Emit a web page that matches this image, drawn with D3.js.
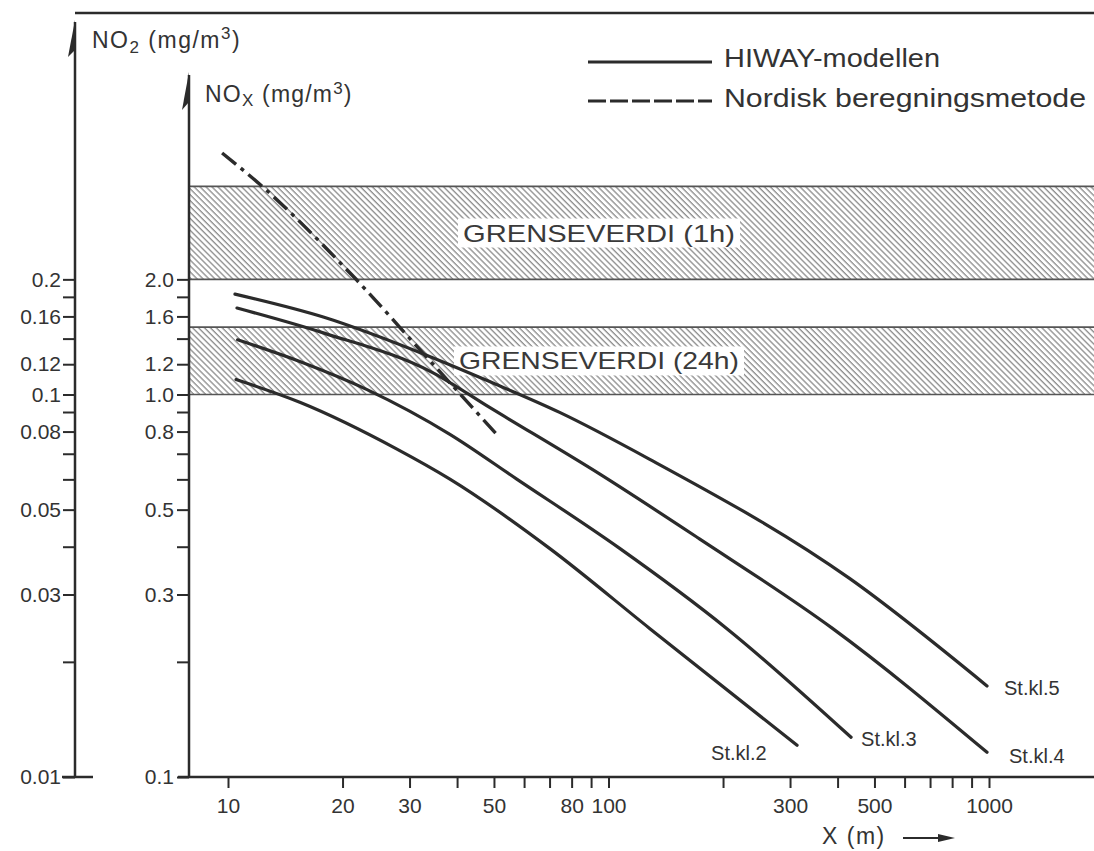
<!DOCTYPE html>
<html>
<head>
<meta charset="utf-8">
<script src="https://cdn.jsdelivr.net/npm/d3@7"></script>
<style>
  body { margin: 0; background: #fff; }
  svg { font-family: "Liberation Sans", Arial, sans-serif; }
</style>
</head>
<body>
<div id="chart"></div>
<script>
// tick values / labels
const noxTicks = [2.0, 1.8, 1.6, 1.4, 1.2, 1.0, 0.9, 0.8, 0.7, 0.6, 0.5, 0.4, 0.3, 0.2, 0.1];
const noxLabels = {2.0: "2.0", 1.6: "1.6", 1.2: "1.2", 1.0: "1.0", 0.8: "0.8", 0.5: "0.5", 0.3: "0.3", 0.1: "0.1"};
const no2Ticks = [0.2, 0.18, 0.16, 0.14, 0.12, 0.1, 0.09, 0.08, 0.07, 0.06, 0.05, 0.04, 0.03, 0.02, 0.01];
const no2Labels = {0.2: "0.2", 0.16: "0.16", 0.12: "0.12", 0.1: "0.1", 0.08: "0.08", 0.05: "0.05", 0.03: "0.03", 0.01: "0.01"};
const xTicks = [10, 20, 30, 40, 50, 60, 70, 80, 90, 100, 200, 300, 400, 500, 600, 700, 800, 900, 1000];
const xLabels = [10, 20, 30, 50, 80, 100, 300, 500, 1000];

// limit bands (NOx mg/m3)
const bandNames = ["GRENSEVERDI (1h)", "GRENSEVERDI (24h)"];
const bandLow = [2.0, 1.0];
const bandHigh = [3.5, 1.5];

// HIWAY curves, NOx vs distance
const curveNames = ["St.kl.2", "St.kl.3", "St.kl.4", "St.kl.5"];
const st2X = [10.5, 15.5, 27.8, 38.3, 70, 128, 313];
const st2Y = [1.094, 0.953, 0.72, 0.601, 0.396, 0.245, 0.121];
const st3X = [10.6, 15.5, 23.2, 38.3, 57.4, 107, 204, 434];
const st3Y = [1.39, 1.218, 1.03, 0.787, 0.601, 0.396, 0.245, 0.127];
const st4X = [10.56, 17.8, 34.5, 48.7, 94.7, 173, 387, 988];
const st4Y = [1.683, 1.449, 1.141, 0.925, 0.620, 0.420, 0.245, 0.116];
const st5X = [10.43, 17.8, 34.5, 48.7, 74.4, 128, 429, 988];
const st5Y = [1.83, 1.594, 1.248, 1.081, 0.898, 0.678, 0.331, 0.173];

// Nordisk beregningsmetode
const nordX = [9.65, 12.1, 21.8, 32.5, 50.8];
const nordY = [4.28, 3.55, 1.99, 1.285, 0.787];

const width = 1094, height = 851;
const ink = "#2b2b2b";

const svg = d3.select("#chart").append("svg")
    .attr("width", width)
    .attr("height", height);

const x = d3.scaleLog().domain([10, 1000]).range([228, 989]);
const y = d3.scaleLog().domain([0.1, 1]).range([777, 394.5]);
const y2 = d3.scaleLog().domain([0.01, 0.1]).range([777, 394.5]);

const noxX = 189, no2X = 75;

// hatch pattern
const defs = svg.append("defs");
defs.append("pattern")
    .attr("id", "hatch")
    .attr("patternUnits", "userSpaceOnUse")
    .attr("width", 4.2)
    .attr("height", 10)
    .attr("patternTransform", "rotate(-45)")
  .append("line")
    .attr("x1", 1).attr("x2", 1)
    .attr("y1", 0).attr("y2", 10)
    .attr("stroke", "#8a8a8a")
    .attr("stroke-width", 1.3);

// bands
const bands = svg.append("g");
bandNames.forEach((name, i) => {
    const y0 = y(bandHigh[i]), y1 = y(bandLow[i]);
    bands.append("rect")
        .attr("x", noxX).attr("y", y0)
        .attr("width", width - noxX).attr("height", y1 - y0)
        .attr("fill", "url(#hatch)");
    [y0, y1].forEach(v => bands.append("line")
        .attr("x1", noxX).attr("x2", width)
        .attr("y1", v).attr("y2", v)
        .attr("stroke", "#555").attr("stroke-width", 1.6));
    const t = bands.append("text")
        .attr("x", 599).attr("y", (y0 + y1) / 2)
        .attr("text-anchor", "middle").attr("dy", "0.36em")
        .attr("font-size", 24).attr("fill", "#3a3a3a")
        .attr("textLength", i === 0 ? 272 : 280)
        .attr("lengthAdjust", "spacingAndGlyphs")
        .text(name);
    const bb = t.node().getBBox();
    bands.insert("rect", function() { return t.node(); })
        .attr("x", bb.x - 5).attr("y", bb.y - 1)
        .attr("width", bb.width + 10).attr("height", bb.height + 2)
        .attr("fill", "#fff");
});

// top frame line
svg.append("line")
    .attr("x1", no2X).attr("x2", width)
    .attr("y1", 13).attr("y2", 13)
    .attr("stroke", ink).attr("stroke-width", 2.5);

// NO2 axis
const no2Axis = svg.append("g")
    .attr("transform", `translate(${no2X},0)`)
    .call(d3.axisLeft(y2).tickValues(no2Ticks).tickSize(12).tickPadding(2)
        .tickFormat(d => no2Labels[d] || ""));
no2Axis.select(".domain").remove();
no2Axis.append("line").attr("y1", 22).attr("y2", 777).attr("stroke", ink).attr("stroke-width", 2.5);
no2Axis.append("line").attr("x1", -13).attr("x2", 18).attr("y1", 777).attr("y2", 777)
    .attr("stroke", ink).attr("stroke-width", 2.5);
no2Axis.append("path").attr("d", "M0,20 L-7,57 L0,50 Z").attr("fill", ink);

// NOx axis
const noxAxis = svg.append("g")
    .attr("transform", `translate(${noxX},0)`)
    .call(d3.axisLeft(y).tickValues(noxTicks).tickSize(12).tickPadding(3)
        .tickFormat(d => noxLabels[d] || ""));
noxAxis.select(".domain").remove();
noxAxis.append("line").attr("y1", 75).attr("y2", 778).attr("stroke", ink).attr("stroke-width", 2.5);
noxAxis.append("path").attr("d", "M0,72 L-7,110 L0,102 Z").attr("fill", ink);

[no2Axis, noxAxis].forEach(g => {
    g.selectAll(".tick line").attr("stroke", ink).attr("stroke-width", 2);
    g.selectAll(".tick text").attr("font-size", 21).attr("fill", "#333")
        .attr("font-family", "'Liberation Sans', Arial, sans-serif");
});

// X axis
const xAxis = svg.append("g")
    .attr("transform", "translate(0,777)")
    .call(d3.axisBottom(x).tickValues(xTicks).tickSize(11).tickPadding(10)
        .tickFormat(d => xLabels.includes(d) ? String(d) : ""));
xAxis.select(".domain").remove();
xAxis.append("line").attr("x1", noxX - 11).attr("x2", width)
    .attr("stroke", ink).attr("stroke-width", 2.5);
xAxis.selectAll(".tick line").attr("stroke", ink).attr("stroke-width", 2);
xAxis.selectAll(".tick text").attr("font-size", 21).attr("fill", "#333")
    .attr("font-family", "'Liberation Sans', Arial, sans-serif");

// axis titles
const t1 = svg.append("text").attr("x", 92).attr("y", 48)
    .attr("font-size", 23).attr("fill", "#333").attr("letter-spacing", 1.5);
t1.append("tspan").text("NO");
t1.append("tspan").attr("font-size", 17).attr("dy", 5).text("2");
t1.append("tspan").attr("dy", -5).text(" (mg/m");
t1.append("tspan").attr("font-size", 17).attr("dy", -9).text("3");
t1.append("tspan").attr("dy", 9).text(")");

const t2 = svg.append("text").attr("x", 205).attr("y", 102)
    .attr("font-size", 23).attr("fill", "#333").attr("letter-spacing", 1.2);
t2.append("tspan").text("NO");
t2.append("tspan").attr("font-size", 17).attr("dy", 4).text("X");
t2.append("tspan").attr("dy", -4).text(" (mg/m");
t2.append("tspan").attr("font-size", 17).attr("dy", -8).text("3");
t2.append("tspan").attr("dy", 8).text(")");

svg.append("text").attr("x", 822).attr("y", 844)
    .attr("font-size", 23).attr("fill", "#333").attr("letter-spacing", 1.5)
    .text("X  (m)");
svg.append("line").attr("x1", 903).attr("x2", 943).attr("y1", 838).attr("y2", 838)
    .attr("stroke", ink).attr("stroke-width", 2);
svg.append("path").attr("d", "M955,838 L938,834 L938,842 Z").attr("fill", ink);

// curves
const line = d3.line().x(d => x(d[0])).y(d => y(d[1])).curve(d3.curveMonotoneX);
const curves = [[st2X, st2Y], [st3X, st3Y], [st4X, st4Y], [st5X, st5Y]];
const lineG = svg.append("g");
curves.forEach(([xs, ys]) => {
    lineG.append("path")
        .datum(xs.map((v, i) => [v, ys[i]]))
        .attr("d", line)
        .attr("fill", "none").attr("stroke", ink)
        .attr("stroke-width", 3.2).attr("stroke-linecap", "round");
});

lineG.append("path")
    .datum(nordX.map((v, i) => [v, nordY[i]]))
    .attr("d", line)
    .attr("fill", "none").attr("stroke", ink)
    .attr("stroke-width", 3.4)
    .attr("stroke-dasharray", "18,6,4,6");

// curve labels
const labelDx = [-86, 10, 22, 17];
const labelDy = [8, 2, 4, 2];
curves.forEach(([xs, ys], i) => {
    const n = xs.length - 1;
    svg.append("text")
        .attr("x", x(xs[n]) + labelDx[i])
        .attr("y", y(ys[n]) + labelDy[i])
        .attr("dy", "0.35em")
        .attr("font-size", 20).attr("fill", "#333")
        .text(curveNames[i]);
});

// legend
const legend = svg.append("g");
legend.append("line").attr("x1", 588).attr("x2", 712).attr("y1", 62).attr("y2", 62)
    .attr("stroke", ink).attr("stroke-width", 3.2);
legend.append("line").attr("x1", 588).attr("x2", 712).attr("y1", 101).attr("y2", 101)
    .attr("stroke", ink).attr("stroke-width", 3.2).attr("stroke-dasharray", "18,4");
legend.append("text").attr("x", 724).attr("y", 58).attr("dy", "0.36em")
    .attr("font-size", 25).attr("fill", "#333")
    .attr("textLength", 216).attr("lengthAdjust", "spacingAndGlyphs")
    .text("HIWAY-modellen");
legend.append("text").attr("x", 724).attr("y", 98).attr("dy", "0.36em")
    .attr("font-size", 25).attr("fill", "#333")
    .attr("textLength", 362).attr("lengthAdjust", "spacingAndGlyphs")
    .text("Nordisk beregningsmetode");
</script>
</body>
</html>
